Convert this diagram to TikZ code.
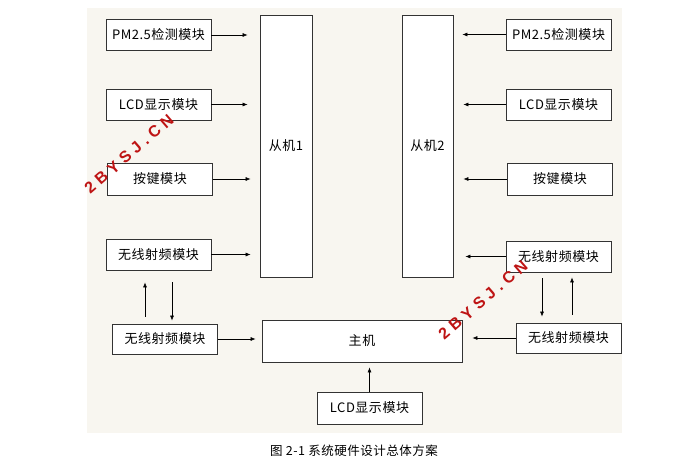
\documentclass[tikz,border=0pt]{standalone}
\usepackage{fontspec}
\newfontfamily\cjk[LetterSpace=4]{Noto Sans CJK SC}
\newfontfamily\wmfont[LetterSpace=30]{Liberation Sans}
\usetikzlibrary{arrows.meta}
\definecolor{bgcream}{RGB}{248,246,240}
\definecolor{wmred}{RGB}{190,20,20}

\tikzset{
  module/.style={draw=black!80, line width=0.8pt, fill=white, inner sep=0pt,
    minimum width=105pt, minimum height=31pt, font=\cjk\fontsize{13}{15}\selectfont},
  conn/.style={line width=0.6pt, -{Latex[length=5pt,width=4pt]}},
  wmark/.style={text=wmred, rotate=41, font=\wmfont\bfseries\fontsize{16}{16}\selectfont}
}

\begin{document}
\begin{tikzpicture}[x=1pt,y=-1pt]
    \useasboundingbox (0,0) rectangle (700,471);
    \fill[bgcream] (87,8) rectangle (622,433);

    \node[module, minimum width=52pt, minimum height=262pt] (slave1) at (286,146) {从机1};
    \node[module, minimum width=51pt, minimum height=262pt] (slave2) at (427.5,146) {从机2};
    \node[module, minimum width=200pt, minimum height=42pt] (master) at (362,341) {主机};

    \node[module] (pmL) at (158.5,35) {PM2.5检测模块};
    \node[module] (lcdL) at (158.5,104.5) {LCD显示模块};
    \node[module, minimum height=32pt] (keyL) at (160,179) {按键模块};
    \node[module] (rfL) at (158.5,254.5) {无线射频模块};
    \node[module, minimum height=30pt] (rfL2) at (165,339) {无线射频模块};

    \node[module] (pmR) at (558.5,34.5) {PM2.5检测模块};
    \node[module] (lcdR) at (558.5,104.5) {LCD显示模块};
    \node[module, minimum height=32pt] (keyR) at (560,179) {按键模块};
    \node[module] (rfR) at (558.5,256.5) {无线射频模块};
    \node[module, minimum height=30pt] (rfR2) at (568.5,338) {无线射频模块};

    \node[module, minimum height=32pt] (lcdB) at (369.5,408) {LCD显示模块};

    \draw[conn, shorten >=12pt] (pmL.east) -- (pmL.east -| slave1.west);
    \draw[conn, shorten >=12pt] (lcdL.east) -- (lcdL.east -| slave1.west);
    \draw[conn, shorten >=9pt] (keyL.east) -- (keyL.east -| slave1.west);
    \draw[conn, shorten >=9pt] (rfL.east) -- (rfL.east -| slave1.west);

    \draw[conn, shorten >=9pt] (pmR.west) -- (pmR.west -| slave2.east);
    \draw[conn, shorten >=10pt] (lcdR.west) -- (lcdR.west -| slave2.east);
    \draw[conn, shorten >=10pt] (keyR.west) -- (keyR.west -| slave2.east);
    \draw[conn, shorten >=12pt] (rfR.west) -- (rfR.west -| slave2.east);

    \draw[conn, shorten >=6pt] (rfL2.east) -- (rfL2.east -| master.west);
    \draw[conn, shorten >=10pt] (rfR2.west) -- (rfR2.west -| master.east);
    \draw[conn, shorten >=5pt] (lcdB.north) -- (lcdB.north |- master.south);

    \draw[conn, shorten <=7pt, shorten >=12pt] ([xshift=-20pt]rfL2.north) -- ([xshift=-20pt]rfL2.north |- rfL.south);
    \draw[conn, shorten <=12pt, shorten >=3pt] ([xshift=13.5pt]rfL.south) -- ([xshift=13.5pt]rfL.south |- rfL2.north);
    \draw[conn, shorten <=6pt, shorten >=6pt] ([xshift=-16.5pt]rfR.south) -- ([xshift=-16.5pt]rfR.south |- rfR2.north);
    \draw[conn, shorten <=8pt, shorten >=5pt] ([xshift=3.5pt]rfR2.north) -- ([xshift=3.5pt]rfR2.north |- rfR.south);

    \node[wmark] (wm1) at (129,154) {2BYSJ.CN};
    \node[wmark] (wm2) at (483,300) {2BYSJ.CN};

    \node[font=\cjk\fontsize{12.5}{14}\selectfont] (caption) at (354,451) {图 2-1 系统硬件设计总体方案};
\end{tikzpicture}
\end{document}
